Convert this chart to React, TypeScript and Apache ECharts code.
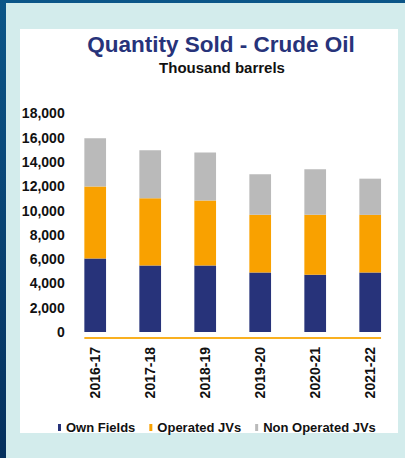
import React, { useEffect, useRef } from "react";
import * as echarts from "echarts";

const categories = ["2016-17", "2017-18", "2018-19", "2019-20", "2020-21", "2021-22"];
const ownFields = [6050, 5480, 5480, 4900, 4710, 4900];
const operatedJVs = [5920, 5520, 5350, 4740, 4930, 4740];
const nonOperatedJVs = [3970, 3960, 3940, 3340, 3750, 2980];
const seriesNames = ["Own Fields", "Operated JVs", "Non Operated JVs"];
const colors = ["#27337a", "#f9a100", "#bababa"];
const yMax = 18000;
const yInterval = 2000;

export default function App() {
  const ref = useRef<HTMLDivElement>(null);
  useEffect(() => {
    if (!ref.current) return;
    const chart = echarts.init(ref.current, null, { renderer: "svg" });
    const font = "'Liberation Sans', Arial, sans-serif";
    const barWidth = 21.7;
    chart.setOption({
      animation: false,
      title: [
        {
          text: "Quantity Sold - Crude Oil",
          left: 216,
          top: 28,
          textAlign: "center",
          textStyle: { fontFamily: font, fontSize: 22.5, fontWeight: "bold", color: "#27337a" },
        },
        {
          text: "Thousand barrels",
          left: 217,
          top: 55,
          textAlign: "center",
          textStyle: { fontFamily: font, fontSize: 15, fontWeight: "bold", color: "#111111" },
        },
      ],
      legend: {
        data: seriesNames,
        left: 53,
        top: 416,
        itemWidth: 3,
        itemHeight: 7,
        itemGap: 14,
        icon: "rect",
        textStyle: { fontFamily: font, fontSize: 13, fontWeight: "bold", color: "#111111" },
      },
      grid: { left: 67.7, right: 7.3, top: 113.3, bottom: 126, containLabel: false },
      xAxis: {
        type: "category",
        data: categories,
        axisLine: { show: false },
        axisTick: { show: false },
        axisLabel: {
          rotate: 90,
          margin: 15,
          fontFamily: font,
          fontSize: 14,
          fontWeight: "bold",
          color: "#111111",
        },
      },
      yAxis: {
        type: "value",
        min: 0,
        max: yMax,
        interval: yInterval,
        splitLine: { show: false },
        axisLine: { show: false },
        axisTick: { show: false },
        axisLabel: {
          margin: 3,
          fontFamily: font,
          fontSize: 14,
          fontWeight: "bold",
          color: "#111111",
          formatter: (v: number) => v.toLocaleString("en-US"),
        },
      },
      series: [ownFields, operatedJVs, nonOperatedJVs].map((d, i) => ({
        name: seriesNames[i],
        type: "bar",
        stack: "total",
        data: d,
        barWidth,
        itemStyle: { color: colors[i] },
      })),
    });
    const p0 = chart.convertToPixel({ gridIndex: 0 }, [0, 0]) as number[];
    const p5 = chart.convertToPixel({ gridIndex: 0 }, [categories.length - 1, 0]) as number[];
    if (p0 && p5) {
      chart.setOption({
        graphic: [
          {
            type: "line",
            shape: { x1: p0[0] - barWidth / 2, y1: p0[1] + 6, x2: p5[0] + barWidth / 2, y2: p5[1] + 6 },
            style: { stroke: "#f9b020", lineWidth: 2 },
            silent: true,
          },
        ],
      });
    }
    return () => chart.dispose();
  }, []);

  return (
    <div
      style={{
        position: "fixed",
        left: 0,
        top: 0,
        width: 405,
        height: 458,
        background: "linear-gradient(to bottom, #0b5688, #05305d)",
      }}
    >
      <div style={{ position: "absolute", left: 6, top: 3, right: 0, bottom: 0, background: "#d3ecec" }} />
      <div style={{ position: "absolute", left: 20, top: 29, width: 378, height: 404, background: "#ffffff" }} />
      <div ref={ref} style={{ position: "absolute", left: 0, top: 0, width: 405, height: 458 }} />
    </div>
  );
}
